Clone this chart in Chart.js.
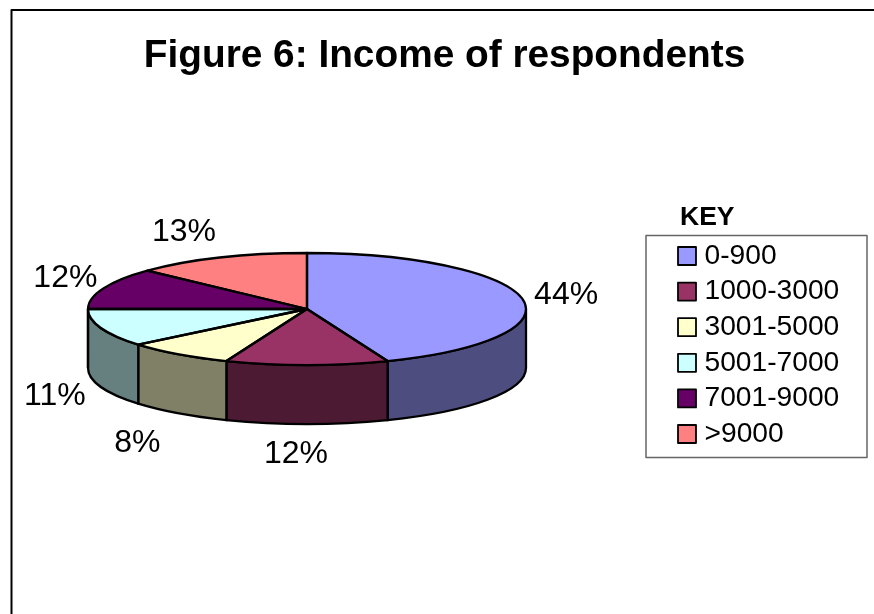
<!DOCTYPE html>
<html>
<head>
<meta charset="utf-8">
<title>Income of respondents</title>
<script src="https://cdn.jsdelivr.net/npm/chart.js@4"></script>
<style>
    html, body { margin: 0; padding: 0; background: #fff; }
    #wrap { position: relative; width: 874px; height: 614px; }
</style>
</head>
<body>
<div id="wrap"><canvas id="incomeChart" width="874" height="614"></canvas></div>
<script>
var categories = ['0-900', '1000-3000', '3001-5000', '5001-7000', '7001-9000', '>9000'];
var percentages = [44, 12, 8, 11, 12, 13];
var topColors = ['#9999ff', '#993366', '#ffffcc', '#ccffff', '#660066', '#ff8080'];
var wallColors = ['#4d4d80', '#4d1a33', '#808066', '#668080', '#330033', '#804040'];

var FONT = '"Liberation Sans", Arial, sans-serif';
var TILT = 56 / 219;   // ellipse height / width of the pie top
var DEPTH = 59;        // height of the side wall
var EDGE = 2.3;        // pie outline width

// where each percent label sits relative to the rim of its slice
var labelNudge = [[44, -3], [-11, 30], [-41, 30], [-46, 9], [-38, -10], [-36, -25]];

function rimPath(ctx, arc, a0, a1) {
    ctx.ellipse(arc.x, arc.y, arc.outerRadius, arc.outerRadius * TILT, 0, a0, a1);
}

var pie3d = {
    id: 'pie3d',
    beforeDatasetsDraw: function (chart) {
        var ctx = chart.ctx;
        var arcs = chart.getDatasetMeta(0).data;

        // front wall, only the part of each slice facing the viewer
        arcs.forEach(function (arc, i) {
            var a0 = Math.max(arc.startAngle, 0);
            var a1 = Math.min(arc.endAngle, Math.PI);
            if (a1 <= a0) return;
            var rx = arc.outerRadius, ry = rx * TILT;
            ctx.beginPath();
            ctx.ellipse(arc.x, arc.y, rx, ry, 0, a0, a1);
            ctx.ellipse(arc.x, arc.y + DEPTH, rx, ry, 0, a1, a0, true);
            ctx.closePath();
            ctx.fillStyle = wallColors[i];
            ctx.fill();
            ctx.lineWidth = EDGE;
            ctx.strokeStyle = '#000';
            ctx.stroke();
        });

        // squash the round pie into the tilted top
        var c = arcs[0];
        ctx.save();
        ctx.translate(c.x, c.y);
        ctx.scale(1, TILT);
        ctx.translate(-c.x, -c.y);
    },
    afterDatasetsDraw: function (chart) {
        var ctx = chart.ctx;
        var arcs = chart.getDatasetMeta(0).data;
        ctx.restore();

        // outlines go on after the restore so the line width stays even
        ctx.lineWidth = EDGE;
        ctx.strokeStyle = '#000';
        ctx.lineJoin = 'round';
        arcs.forEach(function (arc) {
            ctx.beginPath();
            ctx.moveTo(arc.x, arc.y);
            rimPath(ctx, arc, arc.startAngle, arc.endAngle);
            ctx.closePath();
            ctx.stroke();
        });

        // percent labels
        ctx.fillStyle = '#000';
        ctx.font = '32px ' + FONT;
        ctx.textAlign = 'center';
        ctx.textBaseline = 'middle';
        arcs.forEach(function (arc, i) {
            var mid = (arc.startAngle + arc.endAngle) / 2;
            var rx = arc.outerRadius;
            var px = arc.x + rx * Math.cos(mid);
            var py = arc.y + rx * TILT * Math.sin(mid);
            if (Math.sin(mid) > 0.3) py += DEPTH;
            ctx.fillText(percentages[i] + '%', px + labelNudge[i][0], py + labelNudge[i][1]);
        });
    },
    afterDraw: function (chart) {
        var ctx = chart.ctx;

        // frame: top and left edges only reach the page edge
        ctx.strokeStyle = '#000';
        ctx.lineWidth = 2;
        ctx.beginPath();
        ctx.moveTo(874, 10);
        ctx.lineTo(11.5, 10);
        ctx.lineTo(11.5, 614);
        ctx.stroke();

        ctx.fillStyle = '#000';
        ctx.textBaseline = 'middle';
        ctx.textAlign = 'center';
        ctx.font = 'bold 38.8px ' + FONT;
        ctx.fillText('Figure 6: Income of respondents', 444.5, 56);

        // key box
        ctx.textAlign = 'left';
        ctx.font = 'bold 26.5px ' + FONT;
        ctx.fillText('KEY', 680, 218);

        ctx.strokeStyle = '#666';
        ctx.lineWidth = 1.5;
        ctx.strokeRect(646, 235.5, 221, 222);

        ctx.font = '28.2px ' + FONT;
        categories.forEach(function (name, i) {
            var y = 256 + i * 35.6;
            ctx.fillStyle = topColors[i];
            ctx.fillRect(678, y - 9, 18, 18);
            ctx.strokeStyle = '#000';
            ctx.lineWidth = 1.8;
            ctx.strokeRect(678, y - 9, 18, 18);
            ctx.fillStyle = '#000';
            ctx.fillText(name, 704.5, y);
        });
    }
};

new Chart(document.getElementById('incomeChart').getContext('2d'), {
    type: 'pie',
    data: {
        labels: categories,
        datasets: [{
            data: percentages,
            backgroundColor: topColors,
            borderWidth: 0
        }]
    },
    options: {
        responsive: false,
        animation: false,
        layout: { padding: { left: 88, right: 348, top: 90, bottom: 86 } },
        plugins: {
            legend: { display: false },
            tooltip: { enabled: false }
        }
    },
    plugins: [pie3d]
});
</script>
</body>
</html>
